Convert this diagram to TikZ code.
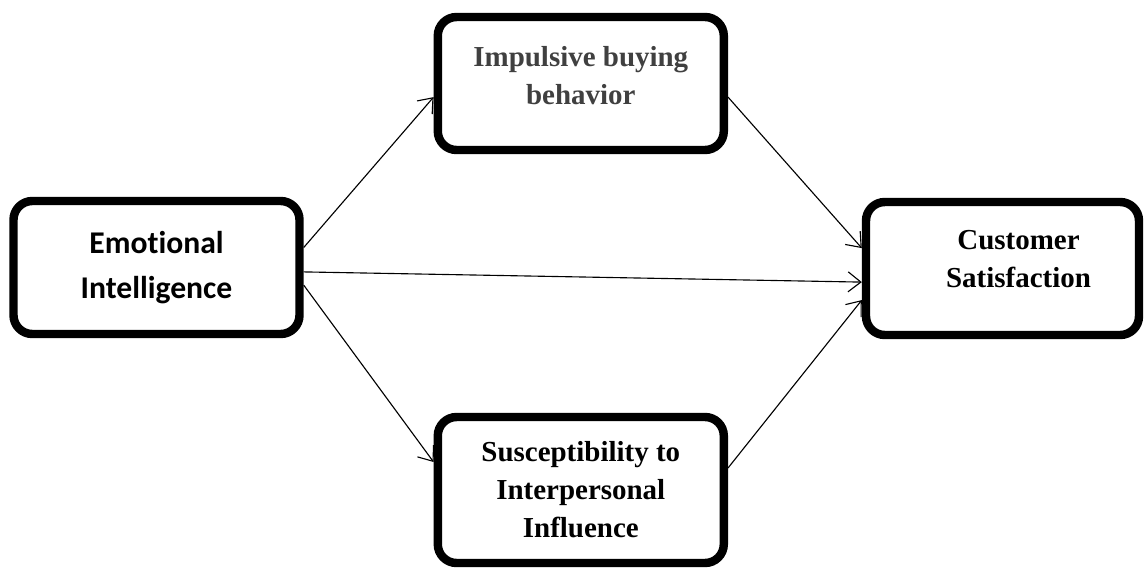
\documentclass[tikz,border=0pt]{standalone}
\usepackage{fontspec}
\setmainfont{Liberation Serif}
\newfontfamily\calibrifont[Ligatures=NoCommon]{Carlito}
\usetikzlibrary{arrows.meta}
\definecolor{darkgrey}{HTML}{404040}
\begin{document}
\begin{tikzpicture}[>={Straight Barb[length=3.2mm,width=5mm]}]
	\useasboundingbox (0,0) rectangle (28.65,-14.25);
	
	% Style for the boxes
	\tikzstyle{box}=[
	rectangle,
	draw,
	line width=6pt,
	rounded corners=0.47cm,
	minimum width=7.15cm,
	minimum height=3.325cm,
	align=center,
	font=\bfseries\fontsize{20.6}{27}\selectfont
	]
	\tikzstyle{link}=[->,line width=0.8pt]
	
	% --- Left and right ---
	\node[box,font=\calibrifont\bfseries\fontsize{22.5}{32}\selectfont] (EI) at (3.9125, -6.6875) {Emotional\\Intelligence};
	\node[box,minimum width=6.825cm,text depth=0.5cm] (CS) at (25.0625, -6.7125) {\hspace*{8mm}Customer\\\hspace*{8mm}Satisfaction};
	
	% --- Middle column ---
	\node[box,text=darkgrey,text depth=0.4cm] (IBB) at (14.52, -2.0875) {Impulsive buying\\behavior};
	\node[box,minimum height=3.65cm] (SII) at (14.52, -12.25) {Susceptibility to\\Interpersonal\\Influence};
	
	\draw[link] ([yshift=0.5cm]EI.east) -- ([yshift=-0.34cm]IBB.west);
	\draw[link] ([yshift=-0.11cm]EI.east) -- ([yshift=-0.34cm]CS.west);
	\draw[link] ([yshift=-0.44cm]EI.east) -- ([yshift=0.7cm]SII.west);
	\draw[link] ([yshift=-0.34cm]IBB.east) -- ([yshift=0.51cm]CS.west);
	\draw[link] ([yshift=0.55cm]SII.east) -- ([yshift=-0.79cm]CS.west);
\end{tikzpicture}
\end{document}
